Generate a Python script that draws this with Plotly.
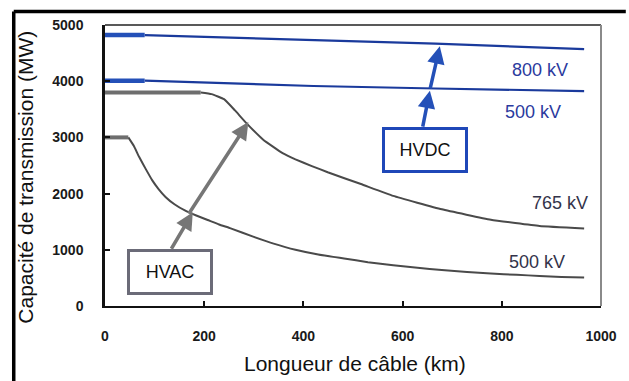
import plotly.graph_objects as go

# Cable length (km) and transmission capacity (MW)
dc_km = [0, 80, 300, 420, 666, 966]
hvdc_800 = [4820, 4820, 4760, 4735, 4670, 4570]
hvdc_500 = [4010, 4010, 3950, 3915, 3870, 3825]

ac765_km = [0, 193, 215, 240, 262, 285, 319, 358, 384, 417, 449, 516, 581, 679, 778, 876, 966]
hvac_765 = [3800, 3800, 3770, 3680, 3480, 3255, 2960, 2720, 2610, 2490, 2380, 2170, 1960, 1720, 1535, 1425, 1380]

ac500_km = [0, 47, 58, 69, 82, 95, 108, 122, 140, 161, 184, 207, 230, 252, 300, 340, 384, 430, 482, 530, 581, 630, 679, 730, 778, 830, 876, 920, 966]
hvac_500 = [3000, 3000, 2850, 2650, 2440, 2240, 2080, 1940, 1810, 1700, 1610, 1530, 1450, 1385, 1230, 1110, 1000, 915, 845, 780, 725, 680, 640, 605, 578, 555, 535, 518, 505]

x_ticks = [0, 200, 400, 600, 800, 1000]
y_ticks = [0, 1000, 2000, 3000, 4000, 5000]

FONT = "Liberation Sans, Arial, sans-serif"
BLUE = "#1a3a9c"
BLUE_THICK = "#2450b8"
GRAY = "#4a4a4a"
GRAY_THICK = "#6e6e6e"

fig = go.Figure()

def add_line(x, y, color, width, shape="linear"):
    fig.add_trace(go.Scatter(x=x, y=y, mode="lines", showlegend=False, hoverinfo="skip",
                             line=dict(color=color, width=width, shape=shape, smoothing=0.35)))

# HVAC curves: thick flat plateau, thinner decaying part
add_line(ac765_km[1:], hvac_765[1:], GRAY, 2, "spline")
add_line(ac765_km[:2], hvac_765[:2], GRAY_THICK, 4)
add_line(ac500_km[1:], hvac_500[1:], GRAY, 2, "spline")
add_line(ac500_km[:2], hvac_500[:2], GRAY_THICK, 4)

# HVDC lines
add_line(dc_km[1:], hvdc_800[1:], BLUE, 2.2)
add_line(dc_km[:2], hvdc_800[:2], BLUE_THICK, 4.5)
add_line(dc_km[1:], hvdc_500[1:], BLUE, 2.2)
add_line(dc_km[:2], hvdc_500[:2], BLUE_THICK, 4.5)

annotations = []

def arrow(tail, tip, color):
    annotations.append(dict(x=tip[0], y=tip[1], ax=tail[0], ay=tail[1], xref="x", yref="y",
                            axref="x", ayref="y", text="", showarrow=True, arrowhead=2,
                            arrowsize=1, arrowwidth=3.5, arrowcolor=color, standoff=0))

arrow((132, 992), (177, 1666), "#767676")
arrow((167, 1616), (289, 3272), "#767676")
arrow((640, 3166), (655, 3830), BLUE_THICK)
arrow((655, 3845), (675, 4620), BLUE_THICK)

def box(x, y, text, color):
    annotations.append(dict(x=x, y=y, xref="x", yref="y", text=text, showarrow=False,
                            font=dict(family=FONT, size=18, color="#111111"),
                            bgcolor="white", bordercolor=color, borderwidth=3, borderpad=4,
                            width=72, height=32))

box(132, 600, "HVAC", "#6b6b78")
box(645, 2773, "HVDC", "#1f47b8")

def label(x, y, text, color):
    annotations.append(dict(x=x, y=y, xref="x", yref="y", text=text, showarrow=False,
                            font=dict(family=FONT, size=18, color=color)))

label(876, 4199, "800 kV", "#2b3a9e")
label(862, 3450, "500 kV", "#2b3a9e")
label(917, 1830, "765 kV", "#33334a")
label(870, 778, "500 kV", "#33334a")

# Axis titles
annotations.append(dict(x=0.504, y=-0.203, xref="paper", yref="paper", showarrow=False,
                        xanchor="center", yanchor="middle",
                        text="Longueur de câble (km)", font=dict(family=FONT, size=21, color="#111")))
annotations.append(dict(x=-0.162, y=0.459, xref="paper", yref="paper", showarrow=False,
                        xanchor="center", yanchor="middle",
                        textangle=-90, text="Capacité de transmission (MW)",
                        font=dict(family=FONT, size=21, color="#111")))

shapes = [
    # top and right plot border
    dict(type="line", xref="paper", yref="paper", x0=0, x1=1, y0=1, y1=1,
         line=dict(color="#222", width=1.5)),
    dict(type="line", xref="paper", yref="paper", x0=1, x1=1, y0=0, y1=1,
         line=dict(color="#8a8a8a", width=2)),
    # outer frame
    dict(type="line", xref="paper", yref="paper", x0=-0.184, x1=1.05, y0=1.048, y1=1.048,
         line=dict(color="black", width=3.5)),
    dict(type="line", xref="paper", yref="paper", x0=-0.184, x1=-0.184, y0=-0.3, y1=1.048,
         line=dict(color="black", width=3.5)),
]

fig.update_layout(
    width=629, height=381,
    margin=dict(l=105, r=16, t=25, b=75),
    paper_bgcolor="white", plot_bgcolor="white",
    font=dict(family=FONT),
    annotations=annotations, shapes=shapes,
    xaxis=dict(range=[0, 1000], tickvals=x_ticks, ticks="inside", ticklen=5, tickwidth=1.5,
               tickcolor="#111", showline=True, linecolor="#111", linewidth=2,
               showgrid=False, zeroline=False, ticklabelstandoff=16,
               tickfont=dict(family=FONT, size=14, color="#1a1a1a", weight="bold")),
    yaxis=dict(range=[0, 5000], tickvals=y_ticks, ticks="inside", ticklen=5, tickwidth=1.5,
               tickcolor="#111", showline=True, linecolor="#111", linewidth=2.5,
               showgrid=False, zeroline=False, ticklabelstandoff=16,
               tickfont=dict(family=FONT, size=14, color="#1a1a1a", weight="bold")),
)

fig.write_html("out.html")
